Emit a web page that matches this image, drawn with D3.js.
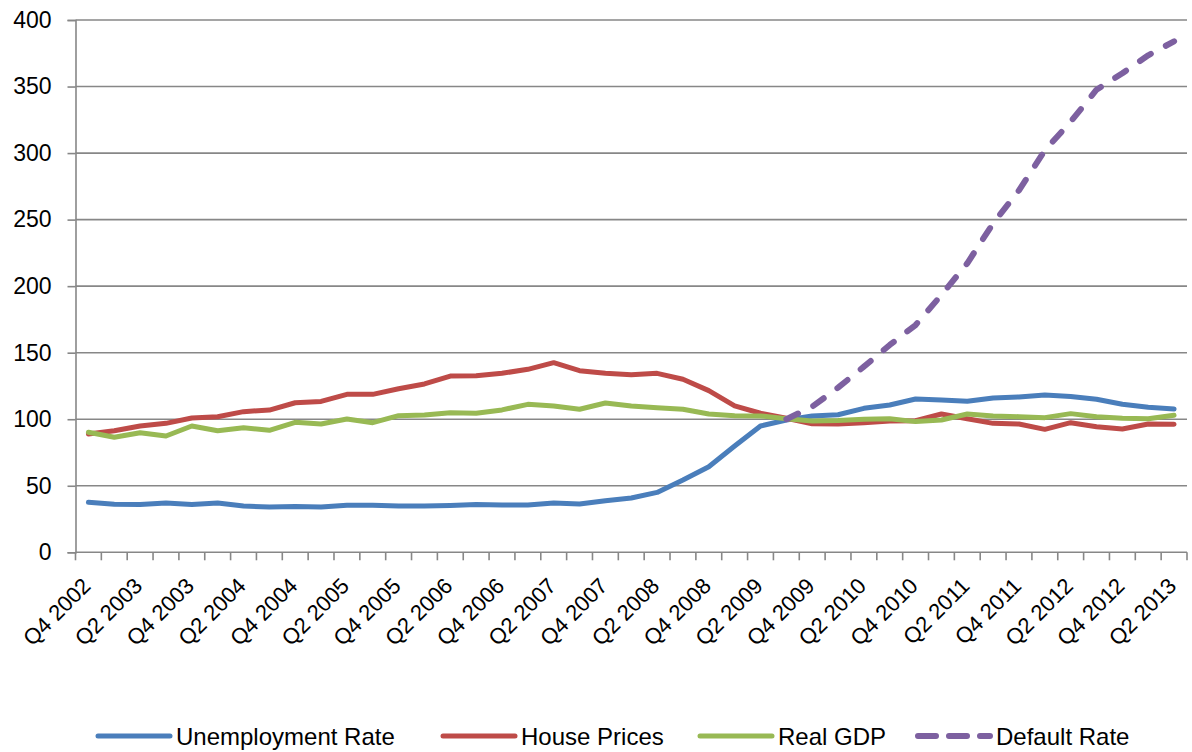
<!DOCTYPE html>
<html>
<head>
<meta charset="utf-8">
<script src="https://cdn.jsdelivr.net/npm/d3@7/dist/d3.min.js"></script>
<style>
  html, body { margin: 0; padding: 0; background: #fff; }
  svg { display: block; font-family: "Liberation Sans", Arial, sans-serif; }
</style>
</head>
<body>
<svg id="chart" width="1192" height="752"></svg>
<script>
// Quarterly index values, Q4 2002 .. Q2 2013
const quarters = [
  "Q4 2002",
  "Q1 2003", "Q2 2003", "Q3 2003", "Q4 2003",
  "Q1 2004", "Q2 2004", "Q3 2004", "Q4 2004",
  "Q1 2005", "Q2 2005", "Q3 2005", "Q4 2005",
  "Q1 2006", "Q2 2006", "Q3 2006", "Q4 2006",
  "Q1 2007", "Q2 2007", "Q3 2007", "Q4 2007",
  "Q1 2008", "Q2 2008", "Q3 2008", "Q4 2008",
  "Q1 2009", "Q2 2009", "Q3 2009", "Q4 2009",
  "Q1 2010", "Q2 2010", "Q3 2010", "Q4 2010",
  "Q1 2011", "Q2 2011", "Q3 2011", "Q4 2011",
  "Q1 2012", "Q2 2012", "Q3 2012", "Q4 2012",
  "Q1 2013", "Q2 2013"
];

const unemploymentRate = [
  37.6, 36.1, 36.0, 37.0, 36.0, 37.0, 34.8, 34.0, 34.5, 34.0,
  35.3, 35.3, 34.8, 34.8, 35.2, 36.0, 35.5, 35.5, 37.0, 36.3,
  38.8, 40.8, 45.0, 54.3, 64.3, 79.9, 94.9, 99.4, 102.4, 103.4,
  108.2, 110.7, 115.2, 114.5, 113.5, 116.0, 116.7, 118.2, 117.0, 115.0,
  111.2, 109.0, 107.7
];

const housePrices = [
  88.9, 91.4, 94.9, 96.9, 100.9, 101.9, 105.7, 106.9, 112.4, 113.4,
  118.7, 118.7, 122.9, 126.5, 132.4, 132.7, 134.5, 137.5, 142.5, 136.5,
  134.5, 133.5, 134.5, 130.0, 121.5, 110.0, 104.5, 100.7, 96.6, 96.5,
  97.4, 98.7, 98.9, 103.9, 100.4, 96.9, 96.4, 92.4, 97.4, 94.4,
  92.7, 96.4, 96.2
];

const realGDP = [
  90.2, 86.4, 89.9, 87.4, 94.9, 91.4, 93.6, 91.7, 97.7, 96.4,
  100.2, 97.4, 102.7, 103.2, 104.8, 104.5, 107.0, 111.2, 110.0, 107.5,
  112.2, 110.0, 108.7, 107.5, 103.9, 102.7, 102.5, 100.4, 98.7, 99.0,
  99.9, 100.4, 98.2, 99.4, 103.9, 102.4, 101.9, 101.2, 104.2, 101.9,
  100.7, 100.4, 103.0
];

// Default rate is only reported from Q3 2009 onward
const defaultRate = [
  null, null, null, null, null, null, null, null, null, null,
  null, null, null, null, null, null, null, null, null, null,
  null, null, null, null, null, null, null, 100.0, 109.4, 123.7,
  139.5, 155.8, 170.8, 193.4, 217.2, 247.2, 272.0, 302.0, 323.6, 347.6,
  360.0, 373.5, 384.0
];

const yTicks = [0, 50, 100, 150, 200, 250, 300, 350, 400];

const seriesNames = ["Unemployment Rate", "House Prices", "Real GDP", "Default Rate"];

const series = [
  { name: seriesNames[0], values: unemploymentRate, color: "#4a7ebb", dash: null, width: 5 },
  { name: seriesNames[1], values: housePrices, color: "#be4b48", dash: null, width: 5 },
  { name: seriesNames[2], values: realGDP, color: "#98b954", dash: null, width: 5 },
  { name: seriesNames[3], values: defaultRate, color: "#7d60a0", dash: "13 17", width: 6 }
];

const svg = d3.select("#chart");
const plot = { left: 75.5, right: 1187, top: 20, bottom: 552.3 };
const gridColor = "#878787";

const x = d3.scaleBand().domain(quarters).range([plot.left, plot.right]);
const y = d3.scaleLinear().domain([0, 400]).range([plot.bottom, plot.top]);

// horizontal gridlines
svg.append("g")
  .selectAll("line")
  .data(yTicks.filter(d => d > 0))
  .join("line")
  .attr("x1", plot.left).attr("x2", plot.right)
  .attr("y1", d => y(d)).attr("y2", d => y(d))
  .attr("stroke", gridColor).attr("stroke-width", 1.6);

// y axis
const yAxis = svg.append("g")
  .attr("transform", `translate(${plot.left},0)`)
  .call(d3.axisLeft(y).tickValues(yTicks).tickSize(8).tickPadding(16).tickFormat(d3.format("d")));
yAxis.select(".domain").attr("stroke", gridColor).attr("stroke-width", 1.6);
yAxis.selectAll(".tick line").attr("stroke", gridColor).attr("stroke-width", 1.6);
yAxis.selectAll(".tick text")
  .attr("font-size", 23).attr("fill", "#000")
  .attr("font-family", "'Liberation Sans', Arial, sans-serif");

// x axis line
svg.append("line")
  .attr("x1", plot.left).attr("x2", plot.right)
  .attr("y1", plot.bottom).attr("y2", plot.bottom)
  .attr("stroke", gridColor).attr("stroke-width", 1.6);

// tick marks on category boundaries
const boundaries = quarters.map(q => x(q)).concat([x.range()[1]]);
svg.append("g")
  .selectAll("line")
  .data(boundaries)
  .join("line")
  .attr("x1", d => d).attr("x2", d => d)
  .attr("y1", plot.bottom).attr("y2", plot.bottom + 8)
  .attr("stroke", gridColor).attr("stroke-width", 1.6);

// category labels, every second quarter, rotated
const cx = q => x(q) + x.bandwidth() / 2;
svg.append("g")
  .selectAll("text")
  .data(quarters.filter((q, i) => i % 2 === 0))
  .join("text")
  .attr("transform", q => `translate(${cx(q) + 3.6},${plot.bottom + 35}) rotate(-45)`)
  .attr("text-anchor", "end")
  .attr("font-size", 22)
  .attr("fill", "#000")
  .text(q => q);

// series lines
const line = d3.line()
  .defined(d => d.v !== null)
  .x(d => cx(d.q))
  .y(d => y(d.v));

series.forEach(s => {
  const pts = quarters.map((q, i) => ({ q, v: s.values[i] }));
  svg.append("path")
    .datum(pts)
    .attr("d", line)
    .attr("fill", "none")
    .attr("stroke", s.color)
    .attr("stroke-width", s.width)
    .attr("stroke-linejoin", "round")
    .attr("stroke-linecap", "round")
    .attr("stroke-dasharray", s.dash);
});

// legend
const legendX = [98, 443, 700, 918];
const legendY = 736;
const lg = svg.append("g");
series.forEach((s, i) => {
  const g = lg.append("g").attr("transform", `translate(${legendX[i]},${legendY})`);
  g.append("line")
    .attr("x1", 0).attr("x2", 72)
    .attr("y1", 0).attr("y2", 0)
    .attr("stroke", s.color)
    .attr("stroke-width", s.width)
    .attr("stroke-linecap", "round")
    .attr("stroke-dasharray", s.dash ? "18 13" : null);
  g.append("text")
    .attr("x", 78).attr("y", 8.5)
    .attr("font-size", 24)
    .attr("fill", "#000")
    .text(s.name);
});
</script>
</body>
</html>
